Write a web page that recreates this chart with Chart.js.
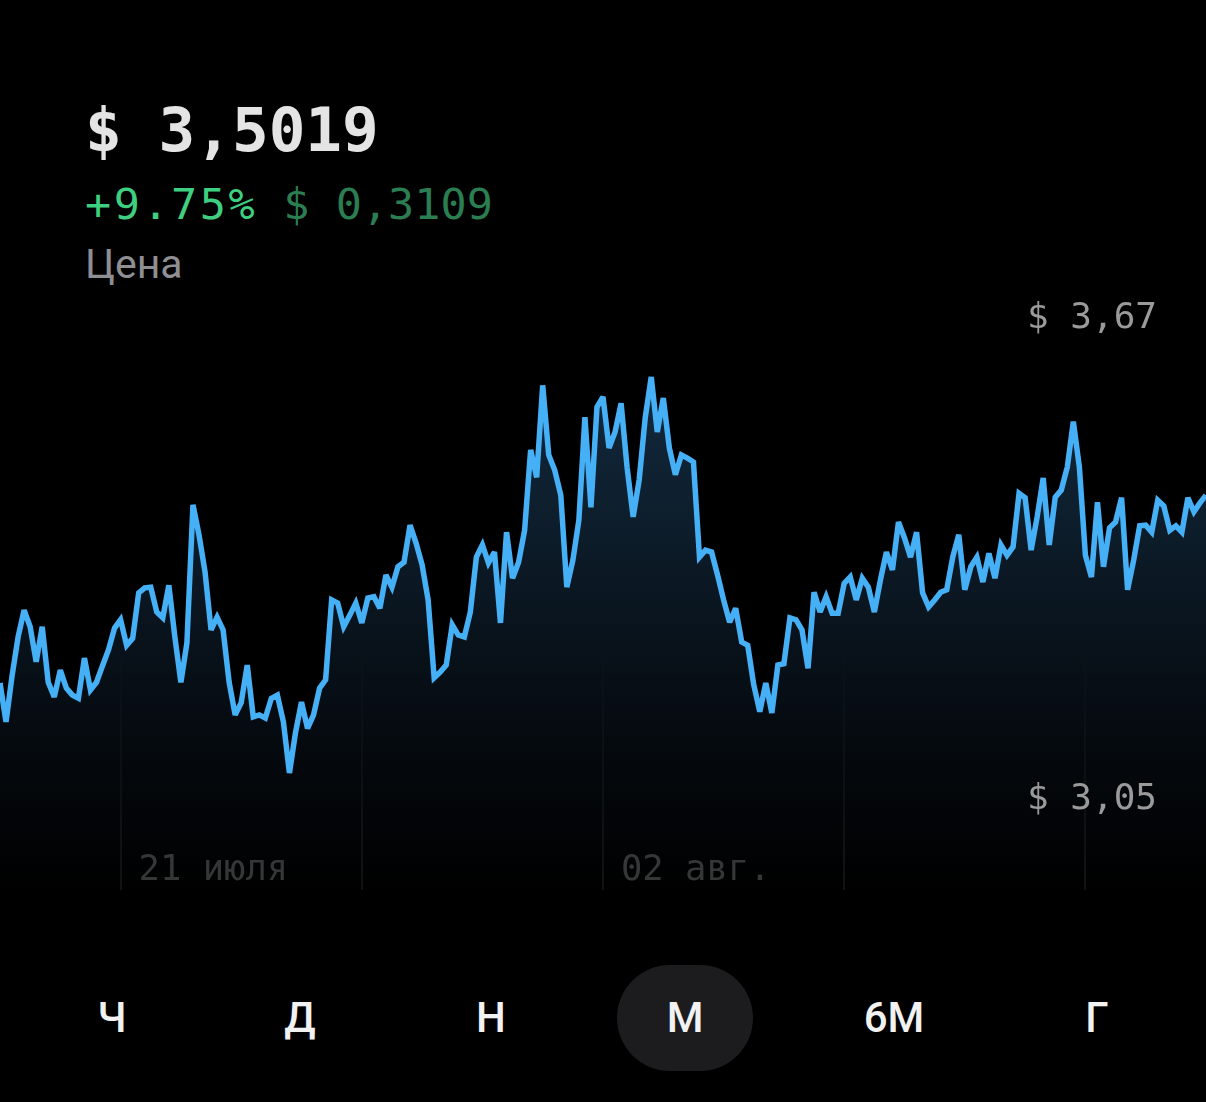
<!DOCTYPE html>
<html>
<head>
<meta charset="utf-8">
<script src="https://cdn.jsdelivr.net/npm/chart.js@4"></script>
<style>
  html, body { margin: 0; padding: 0; background: #000; }
  body { width: 1206px; height: 1102px; position: relative; overflow: hidden; }
  .mono { font-family: 'DejaVu Sans Mono', monospace; }
  #price { position: absolute; left: 85px; top: 94px; font-size: 61px; font-weight: bold; color: #e4e4e4; }
  #change { position: absolute; left: 85px; top: 179px; font-size: 43.5px; white-space: nowrap; }
  #change .pct { color: #3fcf80; letter-spacing: 2.5px; }
  #change .abs { color: #2b7d52; }
  #caption { position: absolute; left: 85px; top: 240px; font-family: Roboto, 'Noto Sans', sans-serif; font-size: 41px; color: #8e8e93; }
  #chartBox { position: absolute; left: 0; top: 300px; width: 1206px; height: 590px; }
  #periods { position: absolute; left: 0; top: 965px; width: 1206px; height: 106px; }
  .period { position: absolute; top: 0; height: 106px; line-height: 106px; transform: translateX(-50%);
            font-family: Roboto, 'Noto Sans', sans-serif; font-weight: 500; font-size: 42px; color: #f2f2f2; text-align: center; }
  .period.active { background: #1c1c1e; border-radius: 53px; width: 136px; }
</style>
</head>
<body>
<div id="price" class="mono"></div>
<div id="change" class="mono"><span class="pct"></span><span class="abs"></span></div>
<div id="caption">Цена</div>
<div id="chartBox"><canvas id="priceChart" width="1206" height="590"></canvas></div>
<div id="periods"></div>

<script>
// header values
const currentPrice = '$ 3,5019';
const changePct = '+9.75%';
const changeAbs = ' $ 0,3109';

// price series, one point per step (month view)
const prices = [
  3.191, 3.130, 3.202, 3.263, 3.305, 3.279, 3.224, 3.279, 3.192, 3.169,
  3.211, 3.183, 3.172, 3.167, 3.230, 3.180, 3.192, 3.218, 3.243, 3.277,
  3.290, 3.250, 3.261, 3.332, 3.340, 3.341, 3.302, 3.293, 3.344, 3.263,
  3.192, 3.254, 3.470, 3.423, 3.365, 3.274, 3.294, 3.274, 3.192, 3.141,
  3.160, 3.219, 3.138, 3.141, 3.136, 3.167, 3.172, 3.130, 3.050, 3.113,
  3.161, 3.120, 3.141, 3.183, 3.196, 3.321, 3.316, 3.279, 3.297, 3.316,
  3.285, 3.324, 3.326, 3.308, 3.360, 3.341, 3.373, 3.380, 3.438, 3.410,
  3.376, 3.321, 3.199, 3.208, 3.219, 3.282, 3.266, 3.263, 3.302, 3.388,
  3.407, 3.379, 3.396, 3.285, 3.427, 3.355, 3.380, 3.430, 3.556, 3.513,
  3.657, 3.548, 3.524, 3.485, 3.341, 3.383, 3.446, 3.607, 3.466, 3.623,
  3.639, 3.559, 3.584, 3.629, 3.528, 3.451, 3.509, 3.606, 3.670, 3.584,
  3.637, 3.559, 3.517, 3.548, 3.543, 3.537, 3.388, 3.399, 3.396, 3.360,
  3.321, 3.286, 3.308, 3.255, 3.250, 3.188, 3.146, 3.191, 3.144, 3.219,
  3.221, 3.293, 3.290, 3.274, 3.214, 3.333, 3.302, 3.326, 3.300, 3.300,
  3.347, 3.357, 3.321, 3.355, 3.341, 3.302, 3.352, 3.396, 3.368, 3.443,
  3.418, 3.388, 3.427, 3.332, 3.310, 3.321, 3.333, 3.337, 3.388, 3.423,
  3.337, 3.373, 3.388, 3.349, 3.394, 3.355, 3.407, 3.391, 3.404, 3.488,
  3.481, 3.399, 3.451, 3.512, 3.407, 3.482, 3.493, 3.529, 3.600, 3.529,
  3.391, 3.357, 3.474, 3.373, 3.434, 3.443, 3.481, 3.337, 3.383, 3.437,
  3.438, 3.427, 3.477, 3.468, 3.430, 3.437, 3.427, 3.481, 3.459, 3.473,
  3.485
];
const steps = prices.map((_, i) => i);

// vertical grid lines and the dates written next to some of them
const gridSteps = [20, 60, 100, 140, 180];
const dateSteps = [20, 100];
const dateLabels = ['21 июля', '02 авг.'];

const periods = ['Ч', 'Д', 'Н', 'М', '6М', 'Г'];
const periodCenters = [112, 300, 491, 685, 894, 1097];
const activePeriod = 'М';

document.getElementById('price').textContent = currentPrice;
document.querySelector('#change .pct').textContent = changePct;
document.querySelector('#change .abs').textContent = changeAbs;

const periodBox = document.getElementById('periods');
periods.forEach((p, i) => {
  const el = document.createElement('div');
  el.className = 'period' + (p === activePeriod ? ' active' : '');
  el.style.left = periodCenters[i] + 'px';
  el.textContent = p;
  periodBox.appendChild(el);
});

const fmt = v => '$ ' + v.toFixed(2).replace('.', ',');
const maxPrice = Math.max(...prices);
const minPrice = Math.min(...prices);

const decorations = {
  id: 'decorations',
  beforeDatasetsDraw(chart) {
    const { ctx, chartArea } = chart;
    const x = chart.scales.x;
    const top = chartArea.top + 340;
    const grad = ctx.createLinearGradient(0, top, 0, chartArea.bottom);
    grad.addColorStop(0, 'rgba(255,255,255,0)');
    grad.addColorStop(1, 'rgba(255,255,255,0.07)');
    ctx.save();
    ctx.strokeStyle = grad;
    ctx.lineWidth = 2;
    gridSteps.forEach(s => {
      const px = Math.round(x.getPixelForValue(s));
      ctx.beginPath();
      ctx.moveTo(px, top);
      ctx.lineTo(px, chartArea.bottom);
      ctx.stroke();
    });
    ctx.font = '35.5px "DejaVu Sans Mono", monospace';
    ctx.fillStyle = '#363636';
    ctx.textBaseline = 'alphabetic';
    ctx.textAlign = 'left';
    dateSteps.forEach((s, i) => {
      ctx.fillText(dateLabels[i], x.getPixelForValue(s) + 18, chartArea.bottom - 10);
    });
    ctx.restore();
    // sharp joins, but cut the longest spikes
    ctx.miterLimit = 3;
  },
  afterDatasetsDraw(chart) {
    const { ctx } = chart;
    const y = chart.scales.y;
    ctx.save();
    ctx.font = '36px "DejaVu Sans Mono", monospace';
    ctx.fillStyle = '#9a9a9a';
    ctx.textAlign = 'right';
    ctx.textBaseline = 'middle';
    ctx.fillText(fmt(maxPrice), 1157, y.getPixelForValue(maxPrice) - 58);
    ctx.fillText(fmt(minPrice), 1157, y.getPixelForValue(minPrice) + 27);
    ctx.restore();
  }
};

new Chart(document.getElementById('priceChart'), {
  type: 'line',
  data: {
    labels: steps,
    datasets: [{
      data: prices,
      borderColor: '#46b0f6',
      borderWidth: 5.5,
      borderJoinStyle: 'miter',
      pointRadius: 0,
      tension: 0,
      fill: 'start',
      backgroundColor: (context) => {
        const { ctx, chartArea } = context.chart;
        if (!chartArea) return 'rgba(0,0,0,0)';
        const g = ctx.createLinearGradient(0, chartArea.top, 0, chartArea.bottom);
        g.addColorStop(0, 'rgba(40,92,138,0.52)');
        g.addColorStop(0.4, 'rgba(40,88,130,0.32)');
        g.addColorStop(0.7, 'rgba(40,80,120,0.15)');
        g.addColorStop(1, 'rgba(40,80,120,0)');
        return g;
      }
    }]
  },
  options: {
    responsive: false,
    animation: false,
    layout: { padding: 0 },
    plugins: { legend: { display: false }, tooltip: { enabled: false } },
    scales: {
      x: { display: false, offset: false },
      y: { display: false, min: 2.8668, max: 3.7906 }
    }
  },
  plugins: [decorations]
});
</script>
</body>
</html>
